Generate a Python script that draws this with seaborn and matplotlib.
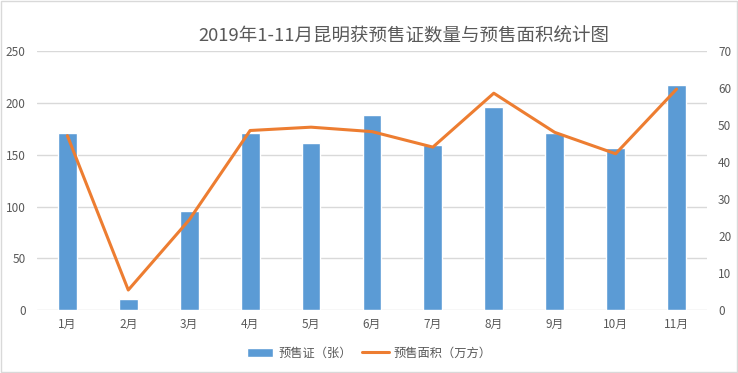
"""
2019年1-11月昆明预售证数量与预售面积
"""

import numpy as np
import pandas as pd
import seaborn as sns
import matplotlib.pyplot as plt
from matplotlib.patches import Patch, Rectangle
from matplotlib.lines import Line2D


# data
months = ["1月", "2月", "3月", "4月", "5月", "6月", "7月", "8月", "9月", "10月", "11月"]
permits = [171, 11, 96, 171, 161, 189, 160, 196, 171, 157, 218]
area = [47.2, 5.4, 24.4, 48.6, 49.5, 48.3, 44.1, 58.7, 48.1, 42.3, 59.8]

df = pd.DataFrame({"month": months, "permits": permits, "area": area})


# configurations
sns.set_style("white")
plt.rcParams["font.family"] = ["Noto Sans CJK SC", "DejaVu Sans"]

bar_color = "#5B9BD5"
line_color = "#ED7D31"
text_color = "#595959"
grid_color = "#D9D9D9"


# instantiate
fig = plt.figure(figsize=(7.38, 3.73), dpi=100)
ax = fig.add_axes([0.050, 0.169, 0.908, 0.693])
ax2 = ax.twinx()

# plot data
sns.barplot(data=df, x="month", y="permits", color=bar_color, width=0.31,
            saturation=1, ax=ax, zorder=2)
sns.lineplot(x=np.arange(len(months)), y=df["area"], color=line_color,
             linewidth=2.2, ax=ax2, zorder=3)


# polishing
ax.set_ylim(0, 250)
ax.set_yticks(range(0, 251, 50))
ax2.set_ylim(0, 70)
ax2.set_yticks(range(0, 71, 10))
ax.set_xlim(-0.5, len(months) - 0.5)

ax.yaxis.grid(True, color=grid_color, linewidth=1, zorder=0)
ax.set_axisbelow(True)
for a in (ax, ax2):
    for s in a.spines.values():
        s.set_visible(False)
    a.set_xlabel("")
    a.set_ylabel("")
    a.tick_params(length=0, colors=text_color, labelsize=8.5)
ax.tick_params(axis="y", pad=8)
ax2.tick_params(axis="y", pad=8)
ax.tick_params(axis="x", pad=6)

fig.text(0.547, 0.902, "2019年1-11月昆明获预售证数量与预售面积统计图", fontsize=13.3,
         color=text_color, ha="center", va="center")

# legend
handles = [Patch(facecolor=bar_color), Line2D([0], [0], color=line_color, linewidth=2.2)]
labels = ["预售证（张）", "预售面积（万方）"]
fig.legend(handles, labels, loc="center", bbox_to_anchor=(0.5, 0.053), ncol=2,
           frameon=False, fontsize=8.8, labelcolor=text_color, handlelength=2.2,
           handleheight=0.7, columnspacing=0.8, handletextpad=0.4)

# figure border
fig.patches.append(Rectangle((0.001, 0.002), 0.997, 0.995, transform=fig.transFigure,
                             fill=False, edgecolor="#D9D9D9", linewidth=1))

plt.savefig("out.png", dpi=100)
